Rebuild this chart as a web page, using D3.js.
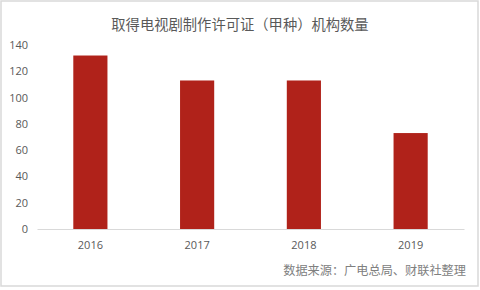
<!DOCTYPE html>
<html><head><meta charset="utf-8">
<script src="https://cdn.jsdelivr.net/npm/d3@7"></script>
<style>html,body{margin:0;padding:0;background:#fff;}svg{display:block;}</style>
</head><body>
<script>
const categories = ["2016","2017","2018","2019"];
const values = [132, 113, 113, 73];
const yTicks = [0,20,40,60,80,100,120,140];
const title = "取得电视剧制作许可证（甲种）机构数量";
const source = "数据来源：广电总局、财联社整理";

(function(){
const W = 480, H = 290;
const svg = d3.select("body").append("svg").attr("width", W).attr("height", H);
svg.append("rect").attr("x",1).attr("y",1).attr("width",477).attr("height",285)
  .attr("fill","#fff").attr("stroke","#d9d9d9").attr("stroke-width",1.5);

const pLeft = 37, pRight = 464, pTop = 45, pBottom = 229;
const x = d3.scaleBand().domain(categories).range([pLeft, pRight]).paddingInner(0.68).paddingOuter(0.34);
const y = d3.scaleLinear().domain([0,140]).range([pBottom, pTop]);

const font = "'Noto Sans CJK SC', 'Noto Sans', sans-serif";

svg.append("text").attr("x", 240).attr("y", 30).attr("text-anchor","middle")
  .attr("font-family", font).attr("font-size", 14.3).attr("fill","#595959").text(title);

svg.selectAll("rect.bar").data(values).join("rect").attr("class","bar")
  .attr("x",(d,i)=>x(categories[i])).attr("width",x.bandwidth())
  .attr("y",d=>y(d)).attr("height",d=>y(0)-y(d)).attr("fill","#b0221a");

const yAxis = svg.append("g").attr("transform",`translate(${pLeft},0)`)
  .call(d3.axisLeft(y).tickValues(yTicks).tickSize(0).tickPadding(6));
yAxis.select(".domain").remove();
yAxis.selectAll("text").attr("font-family","'Open Sans', 'Noto Sans', sans-serif").attr("font-size",11).attr("fill","#595959").attr("text-anchor","end").attr("dx",-3);

const xAxis = svg.append("g").attr("transform",`translate(0,${pBottom})`)
  .call(d3.axisBottom(x).tickSize(0).tickPadding(12));
xAxis.select(".domain").attr("stroke","#d9d9d9").attr("stroke-width",1);
xAxis.selectAll("text").attr("font-family","'Open Sans', 'Noto Sans', sans-serif").attr("font-size",11).attr("fill","#595959");

svg.append("text").attr("x", 466).attr("y", 275).attr("text-anchor","end")
  .attr("font-family","'Noto Sans CJK SC', serif").attr("font-size", 12.2).attr("fill","#808080").text(source);
})();
</script>
</body></html>
